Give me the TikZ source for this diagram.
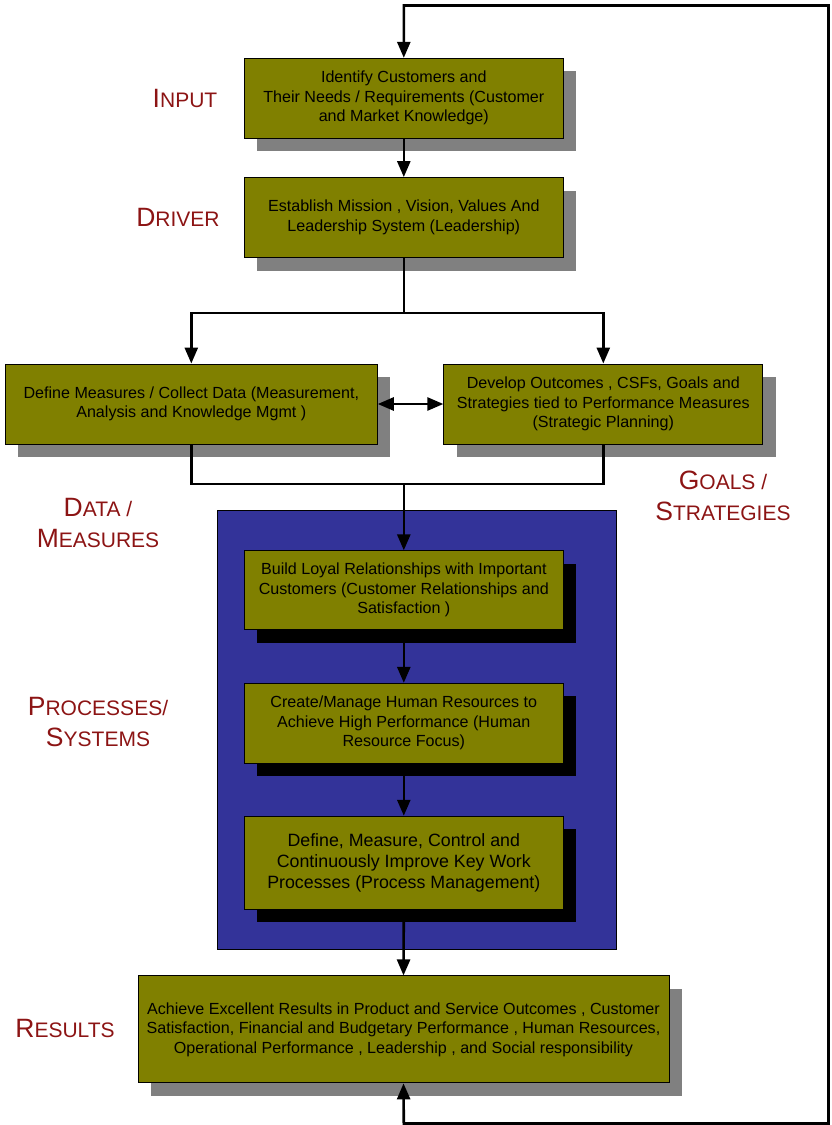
\documentclass[tikz,border=0pt]{standalone}
\usepackage{fontspec}
\setmainfont{Liberation Sans}
\usetikzlibrary{arrows.meta,shadows}
\definecolor{olivebox}{RGB}{128,128,0}
\definecolor{shadowgray}{RGB}{128,128,128}
\definecolor{bluebg}{RGB}{51,51,153}
\definecolor{labelred}{RGB}{140,20,20}
\newcommand\scap[2]{{\fontsize{26.5}{31}\selectfont #1}{\fontsize{21}{25}\selectfont #2}}
\tikzset{
  box/.style={draw=black, line width=0.9pt, fill=olivebox, align=center, inner sep=0pt,
    minimum width=319pt, minimum height=80pt, font=\fontsize{16.1}{19.5}\selectfont},
  grayshadow/.style={drop shadow={shadow xshift=13pt, shadow yshift=-13pt, fill=shadowgray, opacity=1, draw=none}},
  blackshadow/.style={drop shadow={shadow xshift=13pt, shadow yshift=-13pt, fill=black, opacity=1, draw=none}},
  conn/.style={draw=black, line width=2.6pt},
  arr/.style={conn, -{Triangle[width=13pt,length=16pt]}},
  darr/.style={conn, {Triangle[width=13pt,length=16pt]}-{Triangle[width=13pt,length=16pt]}},
  lbl/.style={text=labelred, align=center, inner sep=0pt, font=\fontsize{26}{31.5}\selectfont}
}
\begin{document}
\begin{tikzpicture}[x=1pt,y=-1pt]
\useasboundingbox (0,0) rectangle (831,1125);
% blue background panel
\node[draw=black, line width=0.8pt, fill=bluebg, minimum width=399pt, minimum height=438.5pt, inner sep=0pt] (panel) at (417,729.75) {};
% boxes
\node[box, grayshadow] (in1) at (403.8,98.3) {Identify Customers and\\Their Needs / Requirements (Customer\\and Market Knowledge)};
\node[box, grayshadow] (drv) at (403.8,217.5) {Establish Mission , Vision, Values And\\Leadership System  (Leadership)};
\node[box, grayshadow, minimum width=372pt] (dm) at (191.3,404) {Define Measures / Collect Data (Measurement,\\Analysis and Knowledge Mgmt )};
\node[box, grayshadow] (goal) at (603.3,404) {Develop Outcomes , CSFs, Goals and\\Strategies tied to Performance Measures\\(Strategic Planning)};
\node[box, blackshadow, minimum height=79pt] (bA) at (403.8,590.3) {Build Loyal Relationships with Important\\Customers (Customer Relationships and\\Satisfaction )};
\node[box, blackshadow] (bB) at (403.8,723.3) {Create/Manage Human Resources to\\Achieve High Performance  (Human\\Resource Focus)};
\node[box, blackshadow, minimum height=93pt, font=\fontsize{17.8}{21}\selectfont] (bC) at (403.8,862.7) {Define, Measure, Control and\\Continuously Improve Key Work\\Processes (Process Management)};
\node[box, grayshadow, minimum width=531pt, minimum height=107pt] (res) at (403.5,1029.4) {Achieve Excellent Results in Product and Service Outcomes  , Customer\\Satisfaction, Financial and Budgetary Performance , Human Resources,\\Operational Performance , Leadership , and Social responsibility};
% labels
\node[lbl] (lin) at (185,98) {\scap{I}{NPUT}};
\node[lbl] (ldr) at (178,217) {\scap{D}{RIVER}};
\node[lbl] (lda) at (98,523) {\scap{D}{ATA /}\\\scap{M}{EASURES}};
\node[lbl] (lgo) at (723,496) {\scap{G}{OALS /}\\\scap{S}{TRATEGIES}};
\node[lbl] (lpr) at (98,722) {\scap{P}{ROCESSES/}\\\scap{S}{YSTEMS}};
\node[lbl] (lre) at (65,1028) {\scap{R}{ESULTS}};
% connector points
\coordinate (split) at (403.8,313);
\coordinate (merge) at (403.8,484);
\coordinate (lb) at (403.8,1123.5);
\coordinate (rb) at (828.5,1123.5);
\coordinate (rt) at (828.5,5.5);
\coordinate (lt) at (403.8,5.5);
% connectors
\draw[darr] (res.south) -- (lb) -- (rb) -- (rt) -- (lt) -- (in1.north);
\draw[arr] (in1.south) -- (drv.north);
\draw[conn] (drv.south) -- (split);
\draw[arr] (split) -| (dm.north);
\draw[arr] (split) -| (goal.north);
\draw[darr] (dm.east) -- (goal.west);
\draw[conn] (dm.south) |- (merge) -| (goal.south);
\draw[arr] (merge) -- (bA.north);
\draw[arr] (bA.south) -- (bB.north);
\draw[arr] (bB.south) -- (bC.north);
\draw[arr] (bC.south) -- (res.north);
\end{tikzpicture}
\end{document}
